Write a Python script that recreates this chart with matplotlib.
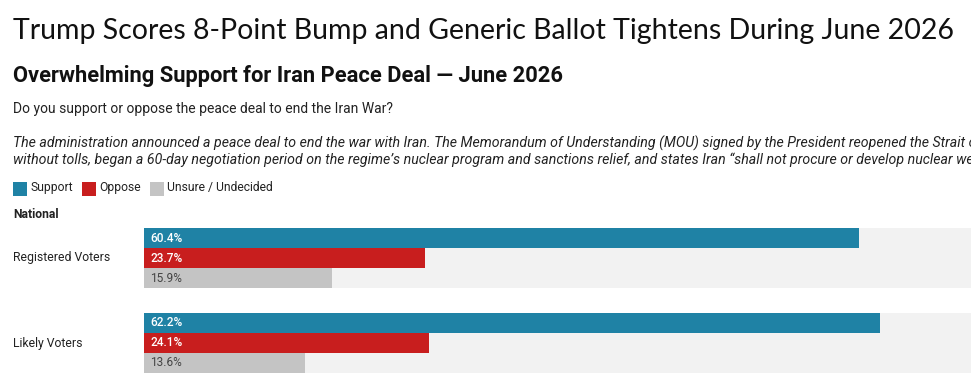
import matplotlib
matplotlib.use("Agg")
import matplotlib.pyplot as plt
from matplotlib.patches import Rectangle
import matplotlib.transforms as mtrans

# ---- data ----
groups = ["Registered Voters", "Likely Voters"]
series = ["Support", "Oppose", "Unsure / Undecided"]
support = [60.4, 62.2]
oppose = [23.7, 24.1]
unsure = [15.9, 13.6]
values = [support, oppose, unsure]

title = "Trump Scores 8-Point Bump and Generic Ballot Tightens During June 2026"
subtitle = "Overwhelming Support for Iran Peace Deal \u2014 June 2026"
question = "Do you support or oppose the peace deal to end the Iran War?"
note1 = ("The administration announced a peace deal to end the war with Iran. The Memorandum of "
         "Understanding (MOU) signed by the President reopened the Strait of Hormuz")
note2 = ("without tolls, began a 60-day negotiation period on the regime\u2019s nuclear program and "
         "sanctions relief, and states Iran \u201cshall not procure or develop nuclear weapons.\u201d")
section = "National"

colors = ["#1f82a5", "#c81e1e", "#c4c4c4"]
label_colors = ["white", "white", "#444444"]
bg_color = "#f2f2f2"

W, H = 971, 384
fig = plt.figure(figsize=(W / 100, H / 100), dpi=100)
fig.patch.set_facecolor("white")

def fx(x):
    return x / W

def fy(y):
    return 1 - y / H

renderer = fig.canvas.get_renderer()

def fit_text(x, y, s, target_w, **kw):
    t = fig.text(fx(x), fy(y), s, **kw)
    bb = t.get_window_extent(renderer=renderer)
    fs = t.get_fontsize() * target_w / bb.width
    t.set_fontsize(fs)
    return t

fit_text(13, 31, title, 944, fontsize=20, family="Lato", color="#111111", va="center")
fit_text(13, 76, subtitle, 552, fontsize=14, family="Roboto", weight="bold", color="#111111", va="center")
fit_text(13, 109, question, 381, fontsize=9.5, family="Roboto", color="#222222", va="center")
fig.text(fx(13), fy(143), note1, fontsize=10.2, family="Roboto", style="italic", color="#222222", va="center")
fig.text(fx(13), fy(160), note2, fontsize=10.2, family="Roboto", style="italic", color="#222222", va="center")

# legend
leg_x = [13, 82, 150]
for lx, name, c in zip(leg_x, series, colors):
    fig.patches.append(Rectangle((fx(lx), fy(196)), 14 / W, 14 / H, transform=fig.transFigure,
                                 facecolor=c, edgecolor="none"))
    fig.text(fx(lx + 17), fy(188), name, fontsize=8.7, family="Roboto", color="#222222", va="center")

fig.text(fx(13), fy(215), section, fontsize=8.7, family="Roboto", weight="bold", color="#222222", va="center")

# bars axes: x from 144px (0%) to 1328px (100%), y from 228px to 373px
x0, x100 = 144, 1328
ytop, ybot = 228, 373
ax = fig.add_axes([fx(x0), fy(ybot), (x100 - x0) / W, (ybot - ytop) / H])
ax.set_xlim(0, 100)
gap = 4.25
ax.set_ylim(2 * gap - (gap - 3), 0)
ax.axis("off")

lab_tr = mtrans.blended_transform_factory(fig.transFigure, ax.transData)
for g, gname in enumerate(groups):
    base = g * gap
    ax.barh(base + 1.5, 100, height=3, color=bg_color, edgecolor="none")
    for s in range(3):
        v = values[s][g]
        ax.barh(base + s + 0.5, v, height=1, color=colors[s], edgecolor="none")
        ax.text(0.55, base + s + 0.5, f"{v}%", color=label_colors[s], fontsize=8.6,
                family="Roboto", weight=500 if s < 2 else "normal", va="center", ha="left")
    ax.text(fx(13), base + 1.5, gname, transform=lab_tr,
            fontsize=8.8, family="Roboto", color="#222222", va="center", ha="left")

fig.savefig("out.png", dpi=100)
